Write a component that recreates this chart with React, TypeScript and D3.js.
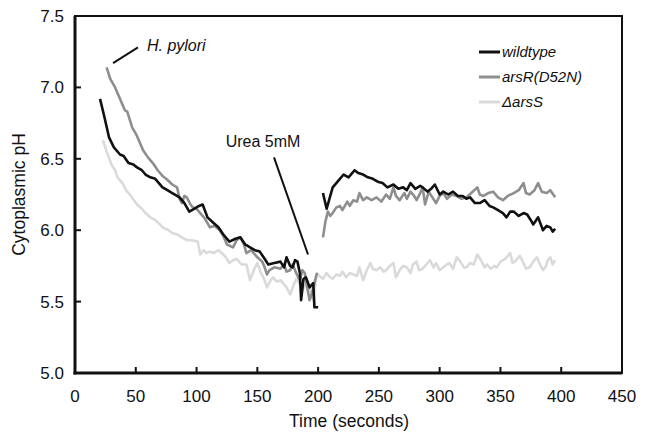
import { useEffect, useRef } from 'react'
import * as d3 from 'd3'

type Pt = [number, number]

// wildtype, before and after urea (seconds, pH)
const wildtypeBefore: Pt[] = [
  [20.6, 6.92], [24, 6.8], [28, 6.65], [32, 6.58], [37, 6.53], [40, 6.52], [44, 6.47], [48, 6.46],
  [51, 6.44], [55, 6.42], [58, 6.39], [62, 6.37], [66, 6.36], [69, 6.33], [72, 6.3], [76, 6.28],
  [80, 6.26], [86, 6.23], [90, 6.19], [94, 6.13], [98, 6.15], [102, 6.17], [105, 6.18], [109, 6.09],
  [114, 6.05], [118, 6.02], [122, 5.97], [127, 5.92], [132, 5.94], [136, 5.95], [140, 5.9], [144, 5.88],
  [148, 5.86], [152, 5.85], [156, 5.8], [159, 5.76], [164, 5.77], [169, 5.78], [172, 5.74], [174, 5.81],
  [177, 5.75], [179, 5.74], [181, 5.79], [183, 5.78], [185, 5.7], [186, 5.51], [188, 5.66], [190, 5.67],
  [193, 5.6], [196, 5.63], [197, 5.46], [200, 5.46],
]
const wildtypeAfter: Pt[] = [
  [204, 6.26], [207, 6.15], [210, 6.24], [212, 6.3], [216, 6.34], [221, 6.39], [225, 6.37], [228, 6.4],
  [230, 6.42], [233, 6.4], [237, 6.39], [241, 6.37], [245, 6.36], [249, 6.34], [253, 6.33], [257, 6.3],
  [262, 6.32], [266, 6.29], [270, 6.3], [273, 6.28], [276, 6.33], [280, 6.29], [284, 6.31], [286, 6.3],
  [290, 6.27], [293, 6.29], [296, 6.32], [300, 6.25], [303, 6.27], [307, 6.25], [311, 6.27], [315, 6.24],
  [319, 6.24], [322, 6.22], [325, 6.23], [329, 6.19], [333, 6.19], [337, 6.21], [341, 6.17], [344, 6.16],
  [348, 6.14], [352, 6.12], [355, 6.09], [358, 6.13], [361, 6.13], [365, 6.1], [369, 6.12], [372, 6.11],
  [375, 6.07], [377, 6.04], [381, 6.09], [385, 6.0], [388, 6.03], [391, 6.02], [393, 5.99], [395, 6.01],
]

// arsR(D52N)
const arsRBefore: Pt[] = [
  [26, 7.14], [29, 7.06], [33, 7.0], [37, 6.92], [41, 6.84], [43, 6.83], [47, 6.72], [51, 6.66],
  [56, 6.56], [60, 6.51], [64, 6.47], [68, 6.42], [72, 6.38], [75, 6.36], [80, 6.32], [84, 6.3],
  [86, 6.22], [88, 6.19], [90, 6.24], [92, 6.23], [95, 6.18], [97, 6.16], [100, 6.15], [103, 6.12],
  [107, 6.08], [111, 6.02], [115, 6.03], [119, 6.0], [122, 5.96], [125, 5.9], [130, 5.88], [133, 5.93],
  [136, 5.95], [139, 5.9], [141, 5.84], [145, 5.86], [150, 5.81], [154, 5.78], [156, 5.74], [158, 5.69],
  [160, 5.72], [164, 5.74], [169, 5.73], [172, 5.76], [174, 5.71], [177, 5.72], [179, 5.76], [182, 5.7],
  [185, 5.65], [187, 5.72], [189, 5.7], [191, 5.6], [193, 5.51], [195, 5.56], [197, 5.63], [199, 5.7],
]
const arsRAfter: Pt[] = [
  [204, 5.95], [206, 6.06], [208, 6.13], [210, 6.1], [212, 6.12], [215, 6.16], [218, 6.17], [220, 6.14],
  [224, 6.2], [226, 6.17], [229, 6.21], [232, 6.2], [234, 6.26], [237, 6.21], [240, 6.23], [244, 6.21],
  [248, 6.23], [252, 6.2], [256, 6.25], [259, 6.22], [262, 6.3], [264, 6.24], [267, 6.21], [271, 6.26],
  [273, 6.22], [276, 6.27], [279, 6.24], [281, 6.21], [284, 6.26], [286, 6.3], [288, 6.18], [291, 6.27],
  [294, 6.23], [297, 6.19], [300, 6.24], [303, 6.26], [306, 6.22], [310, 6.25], [314, 6.24], [318, 6.22],
  [322, 6.23], [326, 6.26], [331, 6.3], [333, 6.25], [336, 6.24], [340, 6.26], [344, 6.27], [348, 6.23],
  [352, 6.21], [356, 6.24], [361, 6.26], [365, 6.28], [369, 6.33], [371, 6.26], [374, 6.25], [378, 6.28],
  [381, 6.33], [384, 6.27], [388, 6.26], [391, 6.28], [395, 6.23],
]

// ΔarsS (one continuous trace)
const arsSAll: Pt[] = [
  [23, 6.63], [26, 6.55], [30, 6.46], [33, 6.42], [35, 6.37], [39, 6.33], [42, 6.28], [46, 6.24],
  [51, 6.18], [55, 6.15], [58, 6.12], [62, 6.09], [66, 6.07], [70, 6.04], [72, 6.02], [77, 6.0],
  [80, 5.98], [84, 5.97], [88, 5.95], [92, 5.93], [96, 5.93], [101, 5.92], [103, 5.83], [106, 5.86],
  [108, 5.84], [111, 5.85], [114, 5.84], [118, 5.86], [122, 5.83], [125, 5.8], [127, 5.77], [130, 5.79],
  [133, 5.8], [137, 5.76], [141, 5.76], [144, 5.65], [147, 5.72], [150, 5.77], [153, 5.7], [155, 5.67],
  [158, 5.6], [161, 5.65], [163, 5.67], [166, 5.64], [169, 5.65], [172, 5.62], [174, 5.6], [177, 5.55],
  [180, 5.62], [182, 5.66], [185, 5.62], [187, 5.58], [190, 5.62], [193, 5.6], [196, 5.51], [199, 5.7],
  [201, 5.68], [204, 5.66], [207, 5.7], [210, 5.67], [212, 5.66], [215, 5.69], [218, 5.68], [220, 5.71],
  [223, 5.67], [226, 5.7], [229, 5.69], [232, 5.68], [234, 5.74], [237, 5.65], [240, 5.72], [243, 5.77],
  [245, 5.73], [248, 5.72], [251, 5.74], [254, 5.71], [256, 5.72], [259, 5.75], [262, 5.77], [264, 5.67],
  [267, 5.72], [270, 5.75], [273, 5.74], [276, 5.7], [278, 5.76], [281, 5.78], [283, 5.72], [286, 5.73],
  [289, 5.76], [292, 5.79], [295, 5.74], [297, 5.77], [300, 5.72], [303, 5.74], [306, 5.76], [308, 5.77],
  [311, 5.73], [314, 5.81], [317, 5.78], [320, 5.74], [322, 5.74], [325, 5.77], [328, 5.76], [331, 5.83],
  [334, 5.79], [337, 5.74], [339, 5.76], [342, 5.73], [345, 5.75], [347, 5.74], [350, 5.78], [354, 5.8],
  [358, 5.84], [360, 5.77], [363, 5.79], [366, 5.82], [369, 5.77], [371, 5.73], [374, 5.74], [377, 5.78],
  [380, 5.81], [382, 5.77], [385, 5.72], [387, 5.74], [389, 5.79], [391, 5.81], [393, 5.76], [395, 5.79],
]

const xTicks = [0, 50, 100, 150, 200, 250, 300, 350, 400, 450]
const yTicks = [5.0, 5.5, 6.0, 6.5, 7.0, 7.5]
const legendNames = ['wildtype', 'arsR(D52N)', 'ΔarsS']
const legendColors = ['#111', '#8e8e8e', '#dadada']

export default function App() {
  const svgRef = useRef<SVGSVGElement>(null)

  useEffect(() => {
    const svg = d3.select(svgRef.current)
    svg.selectAll('*').remove()
    const font = '"Liberation Sans", Arial, sans-serif'

    const x = d3.scaleLinear().domain([0, 450]).range([75, 622])
    const y = d3.scaleLinear().domain([5, 7.5]).range([373, 16])

    const line = d3.line<Pt>().x(d => x(d[0])).y(d => y(d[1]))

    // traces, lightest first
    const traces: [Pt[], string][] = [
      [arsSAll, legendColors[2]],
      [arsRBefore, legendColors[1]],
      [arsRAfter, legendColors[1]],
      [wildtypeBefore, legendColors[0]],
      [wildtypeAfter, legendColors[0]],
    ]
    traces.forEach(([data, color]) => {
      svg.append('path').attr('d', line(data)).attr('fill', 'none')
        .attr('stroke', color).attr('stroke-width', 2.6).attr('stroke-linejoin', 'round')
    })

    // frame
    svg.append('rect').attr('x', x(0)).attr('y', y(7.5)).attr('width', x(450) - x(0)).attr('height', y(5) - y(7.5))
      .attr('fill', 'none').attr('stroke', '#111').attr('stroke-width', 2)
    svg.append('line').attr('x1', x(0)).attr('x2', x(0)).attr('y1', y(7.5)).attr('y2', y(5) + 1.5)
      .attr('stroke', '#111').attr('stroke-width', 3)
    svg.append('line').attr('x1', x(0) - 1.5).attr('x2', x(450)).attr('y1', y(5)).attr('y2', y(5))
      .attr('stroke', '#111').attr('stroke-width', 3)

    // ticks (inward)
    xTicks.slice(1, -1).forEach(t => {
      svg.append('line').attr('x1', x(t)).attr('x2', x(t)).attr('y1', y(5)).attr('y2', y(5) - 6)
        .attr('stroke', '#111').attr('stroke-width', 2)
    })
    yTicks.slice(1, -1).forEach(t => {
      svg.append('line').attr('x1', x(0)).attr('x2', x(0) + 6).attr('y1', y(t)).attr('y2', y(t))
        .attr('stroke', '#111').attr('stroke-width', 2)
    })

    xTicks.forEach(t => {
      svg.append('text').attr('x', x(t)).attr('y', 402).attr('text-anchor', 'middle')
        .attr('font-family', font).attr('font-size', 17).attr('fill', '#111').text(String(t))
    })
    yTicks.forEach(t => {
      svg.append('text').attr('x', 64).attr('y', y(t) + 6).attr('text-anchor', 'end')
        .attr('font-family', font).attr('font-size', 17).attr('fill', '#111').text(t.toFixed(1))
    })

    svg.append('text').attr('x', 349).attr('y', 427).attr('text-anchor', 'middle')
      .attr('font-family', font).attr('font-size', 17.5).attr('fill', '#111').text('Time (seconds)')
    svg.append('text').attr('transform', `translate(25, ${y(6.25)}) rotate(-90)`).attr('text-anchor', 'middle')
      .attr('font-family', font).attr('font-size', 17.5).attr('fill', '#111').text('Cytoplasmic pH')

    // annotations
    svg.append('line').attr('x1', x(31.3)).attr('y1', y(7.17)).attr('x2', x(51.8)).attr('y2', y(7.28))
      .attr('stroke', '#111').attr('stroke-width', 2)
    svg.append('text').attr('x', x(59.2)).attr('y', y(7.255)).attr('font-family', font)
      .attr('font-size', 16).attr('font-style', 'italic').attr('fill', '#111').text('H. pylori')

    svg.append('line').attr('x1', x(163.7)).attr('y1', y(6.51)).attr('x2', x(191.7)).attr('y2', y(5.83))
      .attr('stroke', '#111').attr('stroke-width', 2)
    svg.append('text').attr('x', x(124)).attr('y', y(6.585)).attr('font-family', font)
      .attr('font-size', 16).attr('fill', '#111').text('Urea 5mM')

    // legend
    legendNames.forEach((name, i) => {
      const ly = 52 + i * 25
      svg.append('line').attr('x1', 479).attr('x2', 500).attr('y1', ly).attr('y2', ly)
        .attr('stroke', legendColors[i]).attr('stroke-width', 3)
      svg.append('text').attr('x', 502).attr('y', ly + 5).attr('font-family', font)
        .attr('font-size', 15).attr('font-style', 'italic').attr('fill', '#111').text(name)
    })
  }, [])

  return (
    <svg ref={svgRef} width={645} height={440}
      style={{ position: 'absolute', left: 0, top: 0, background: '#fff' }} />
  )
}
